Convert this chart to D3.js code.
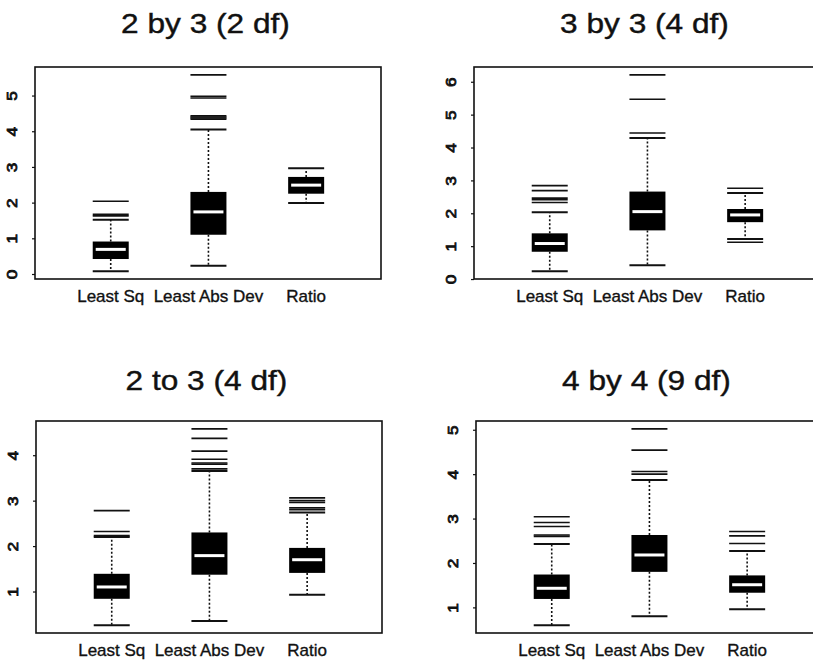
<!DOCTYPE html>
<html>
<head>
<meta charset="utf-8">
<script src="https://cdn.jsdelivr.net/npm/d3@7"></script>
<style>
  html, body { margin: 0; padding: 0; background: #fff; }
  svg { display: block; }
  text { font-family: "Liberation Sans", Arial, Helvetica, sans-serif; fill: #111; }
</style>
</head>
<body>
<svg id="chart" width="813" height="660"></svg>
<script>
// ---- data ----
const methods = ["Least Sq", "Least Abs Dev", "Ratio"];
const titles = ["2 by 3 (2 df)", "3 by 3 (4 df)", "2 to 3 (4 df)", "4 by 4 (9 df)"];

// five-number summaries per method: [low whisker, Q1, median, Q3, high whisker]
const stats2by3 = [
  [0.08, 0.42, 0.69, 0.91, 1.52],
  [0.23, 1.10, 1.74, 2.30, 4.05],
  [1.99, 2.25, 2.49, 2.72, 2.96]
];
const outliers2by3 = [
  [1.63, 1.67, 2.04],
  [4.34, 4.37, 4.40, 4.43, 4.93, 4.98, 5.58],
  []
];

const stats3by3 = [
  [0.24, 0.83, 1.08, 1.39, 2.03],
  [0.42, 1.48, 2.05, 2.66, 4.29],
  [1.22, 1.73, 1.95, 2.13, 2.62]
];
const outliers3by3 = [
  [2.33, 2.41, 2.46, 2.69, 2.84],
  [4.44, 5.47, 6.21],
  [1.12, 2.76]
];

const stats2to3 = [
  [0.26, 0.84, 1.10, 1.39, 2.20],
  [0.35, 1.37, 1.79, 2.30, 3.65],
  [0.93, 1.41, 1.70, 1.96, 2.74]
];
const outliers2to3 = [
  [2.23, 2.32, 2.78],
  [3.70, 3.80, 3.83, 3.91, 4.09, 4.37, 4.58],
  [2.80, 2.84, 2.96, 3.00, 3.06]
];

const stats4by4 = [
  [0.60, 1.19, 1.43, 1.74, 2.43],
  [0.80, 1.80, 2.18, 2.63, 3.87],
  [0.96, 1.33, 1.51, 1.72, 2.27]
];
const outliers4by4 = [
  [2.60, 2.63, 2.82, 2.91, 3.04],
  [4.00, 4.06, 4.54, 5.02],
  [2.44, 2.61, 2.71]
];

const ticks2by3 = [0, 1, 2, 3, 4, 5];
const ticks3by3 = [0, 1, 2, 3, 4, 5, 6];
const ticks2to3 = [1, 2, 3, 4];
const ticks4by4 = [1, 2, 3, 4, 5];

// ---- layout ----
const panels = [
  { title: titles[0], stats: stats2by3, outliers: outliers2by3, ticks: ticks2by3, left: 35,  top: 67,  titleY: 33 },
  { title: titles[1], stats: stats3by3, outliers: outliers3by3, ticks: ticks3by3, left: 474, top: 67,  titleY: 33 },
  { title: titles[2], stats: stats2to3, outliers: outliers2to3, ticks: ticks2to3, left: 36,  top: 421, titleY: 390 },
  { title: titles[3], stats: stats4by4, outliers: outliers4by4, ticks: ticks4by4, left: 476, top: 421, titleY: 390 }
];
const plotW = 346, plotH = 212;
const boxW = 36;

const svg = d3.select("#chart");

panels.forEach(p => {
  const g = svg.append("g");
  const x = d3.scaleLinear().domain([0.225, 3.766]).range([p.left, p.left + plotW]);
  const all = p.stats.flat().concat(p.outliers.flat());
  const [mn, mx] = d3.extent(all);
  const pad = (mx - mn) * 0.04;
  const y = d3.scaleLinear().domain([mn - pad, mx + pad]).range([p.top + plotH, p.top]);

  // title
  g.append("text")
    .attr("transform", `translate(${x(2) - 3},${p.titleY}) scale(1.13,1)`)
    .attr("text-anchor", "middle")
    .style("font-size", "28px")
    .style("stroke", "#111")
    .style("stroke-width", "0.4px")
    .text(p.title);

  // frame
  g.append("rect")
    .attr("x", p.left).attr("y", p.top)
    .attr("width", plotW).attr("height", plotH)
    .attr("fill", "none").attr("stroke", "#111").attr("stroke-width", 1.6);

  // y axis
  const yAxis = d3.axisLeft(y).tickValues(p.ticks).tickSize(3).tickFormat(d3.format("d"));
  const ax = g.append("g").attr("transform", `translate(${p.left},0)`).call(yAxis);
  ax.select(".domain").remove();
  ax.selectAll(".tick line").attr("stroke", "#111").attr("stroke-width", 1.2);
  ax.selectAll(".tick text")
    .attr("x", null).attr("dy", null)
    .attr("transform", "translate(-18,0) rotate(-90) scale(1.15,1)")
    .attr("text-anchor", "middle")
    .attr("y", 0)
    .attr("font-size", 15)
    .style("font-size", "15px")
    .style("fill", "#111")
    .style("stroke", "#111")
    .style("stroke-width", "0.8px");

  // x labels
  methods.forEach((m, i) => {
    g.append("text")
      .attr("x", x(i + 1))
      .attr("y", p.top + plotH + 23)
      .attr("text-anchor", "middle")
      .style("font-size", "17px")
      .style("stroke", "#111")
      .style("stroke-width", "0.35px")
      .text(m);
  });

  // boxes
  p.stats.forEach((s, i) => {
    const cx = x(i + 1);
    const x0 = cx - boxW / 2, x1 = cx + boxW / 2;
    const [lo, q1, med, q3, hi] = s;
    // whiskers (dotted)
    g.append("line").attr("x1", cx).attr("x2", cx).attr("y1", y(q3)).attr("y2", y(hi))
      .attr("stroke", "#111").attr("stroke-width", 1.6).attr("stroke-dasharray", "2,2");
    g.append("line").attr("x1", cx).attr("x2", cx).attr("y1", y(q1)).attr("y2", y(lo))
      .attr("stroke", "#111").attr("stroke-width", 1.6).attr("stroke-dasharray", "2,2");
    // caps
    [lo, hi].forEach(v => {
      g.append("line").attr("x1", x0).attr("x2", x1).attr("y1", y(v)).attr("y2", y(v))
        .attr("stroke", "#111").attr("stroke-width", 2);
    });
    // box
    g.append("rect").attr("x", x0).attr("y", y(q3))
      .attr("width", boxW).attr("height", y(q1) - y(q3))
      .attr("fill", "#000");
    // median
    g.append("line").attr("x1", x0 + 3).attr("x2", x1 - 3).attr("y1", y(med)).attr("y2", y(med))
      .attr("stroke", "#fff").attr("stroke-width", 3);
    // outliers as horizontal lines
    p.outliers[i].forEach(v => {
      g.append("line").attr("x1", x0).attr("x2", x1).attr("y1", y(v)).attr("y2", y(v))
        .attr("stroke", "#111").attr("stroke-width", 1.6);
    });
  });
});
</script>
</body>
</html>
